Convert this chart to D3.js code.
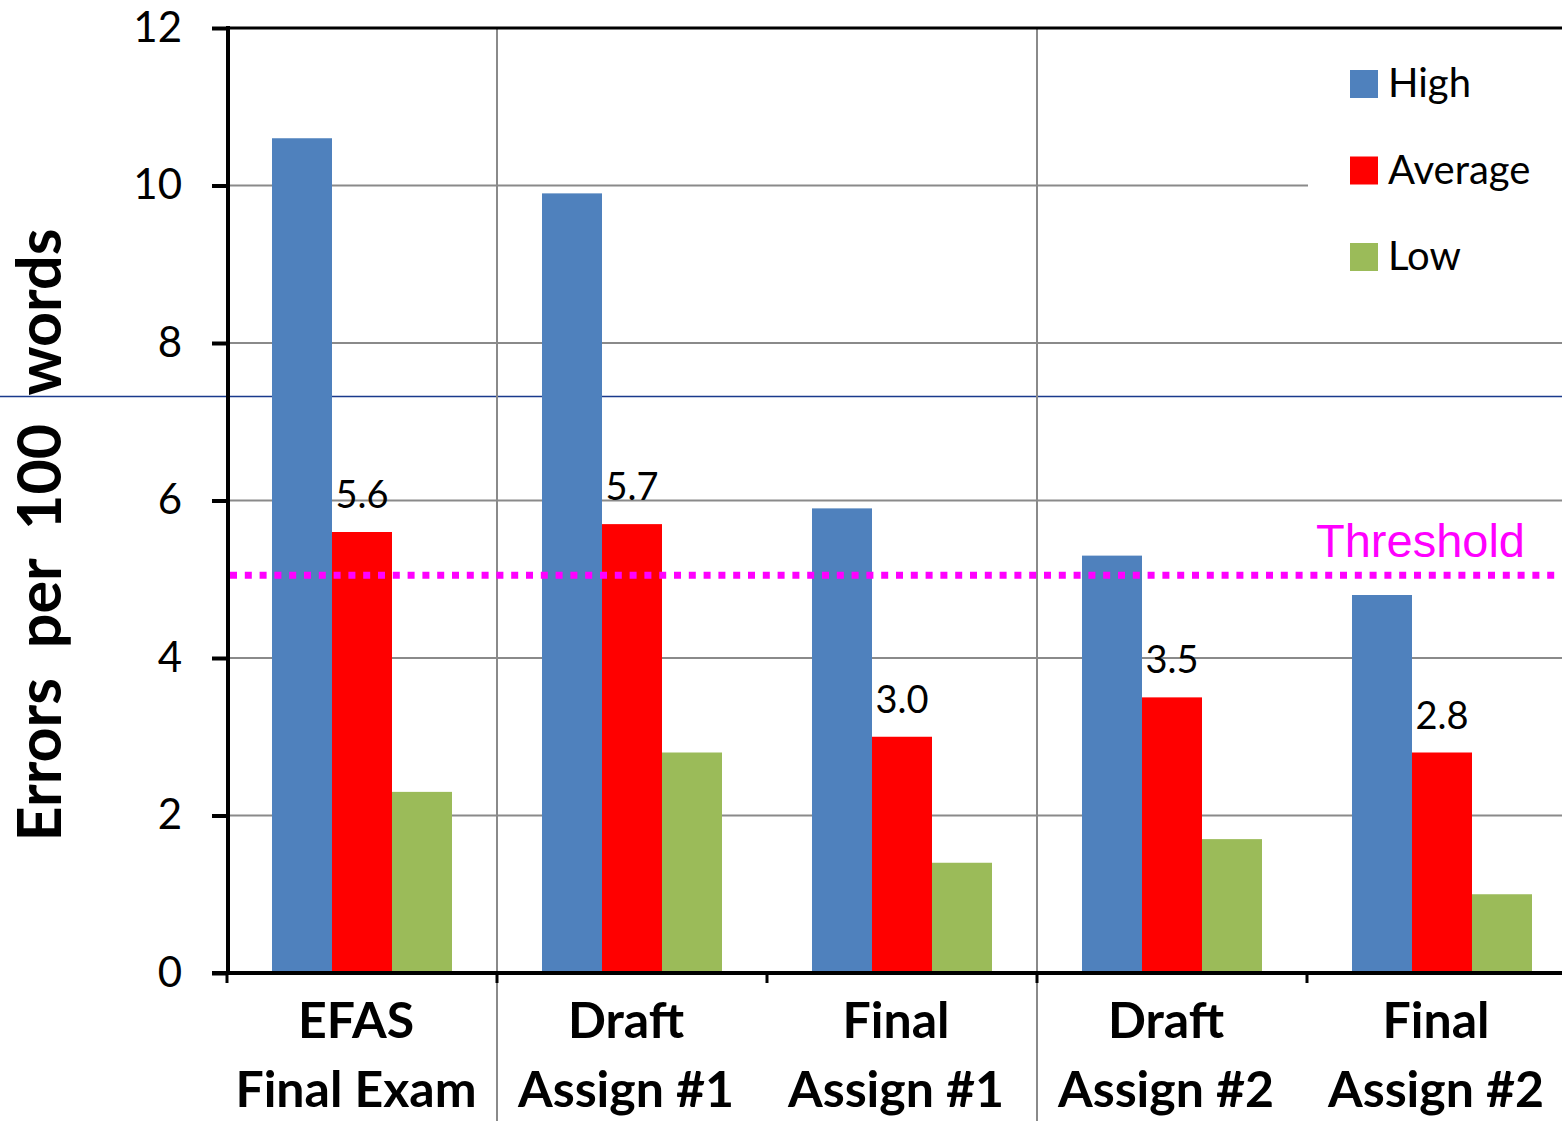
<!DOCTYPE html>
<html>
<head>
<meta charset="utf-8">
<script src="https://cdn.jsdelivr.net/npm/d3@7"></script>
<style>
  html, body { margin: 0; padding: 0; background: #fff; }
  svg { display: block; }
</style>
</head>
<body>
<svg id="chart" width="1562" height="1121"></svg>
<script>
// ---- data ----
const categories = ["EFAS Final Exam", "Draft Assign #1", "Final Assign #1", "Draft Assign #2", "Final Assign #2"];
const categoryTop = ["EFAS", "Draft", "Final", "Draft", "Final"];
const categoryBottom = ["Final Exam", "Assign #1", "Assign #1", "Assign #2", "Assign #2"];
const seriesNames = ["High", "Average", "Low"];
const highValues = [10.6, 9.9, 5.9, 5.3, 4.8];
const averageValues = [5.6, 5.7, 3.0, 3.5, 2.8];
const lowValues = [2.3, 2.8, 1.4, 1.7, 1.0];
const averageLabels = ["5.6", "5.7", "3.0", "3.5", "2.8"];
const thresholdValue = 5.05;
const thresholdLabel = "Threshold";
const yTicks = [0, 2, 4, 6, 8, 10, 12];
const sectionDividers = [1, 3]; // category index where a new section starts
const yTitle = "Errors\u00a0\u00a0per\u00a0\u00a0100\u00a0\u00a0words";
const stripeValue = 7.33;

// ---- styles ----
const colors = { High: "#4F81BD", Average: "#FF0000", Low: "#9BBB59" };
const seriesValues = { High: highValues, Average: averageValues, Low: lowValues };

(function () {
const svg = d3.select("#chart");
const W = 1562, H = 1121;
const plotLeft = 228, plotTop = 28, plotBottom = 973;

const x0 = d3.scaleBand().domain(categories).range([227, 227 + 270 * categories.length]).padding(0);
const x1 = d3.scaleBand().domain(seriesNames).range([0, x0.bandwidth()]).paddingInner(0).paddingOuter(0.75);
const y = d3.scaleLinear().domain([0, 12]).range([plotBottom, plotTop]);

const fontMain = "Lato, 'Open Sans', sans-serif";

// horizontal gridlines
svg.append("g").selectAll("line")
  .data(yTicks.filter(t => t > 0 && t < 12))
  .join("line")
  .attr("x1", plotLeft).attr("x2", W)
  .attr("y1", d => y(d)).attr("y2", d => y(d))
  .attr("stroke", "#8a8a8a").attr("stroke-width", 2);

// legend background covers part of the 10 gridline
svg.append("rect").attr("x", 1308).attr("y", 45).attr("width", W - 1308).attr("height", 250).attr("fill", "#fff");

// stripe line across slide
svg.append("line")
  .attr("x1", 0).attr("x2", W)
  .attr("y1", Math.round(y(stripeValue)) + 0.5).attr("y2", Math.round(y(stripeValue)) + 0.5)
  .attr("stroke", "#1a3a8c").attr("stroke-width", 1.3);

// section divider lines
svg.append("g").selectAll("line")
  .data(sectionDividers)
  .join("line")
  .attr("x1", d => x0(categories[d])).attr("x2", d => x0(categories[d]))
  .attr("y1", plotTop).attr("y2", H)
  .attr("stroke", "#8a8a8a").attr("stroke-width", 2);

// bars
const groups = svg.append("g").selectAll("g")
  .data(categories)
  .join("g")
  .attr("transform", d => `translate(${x0(d)},0)`);

groups.selectAll("rect")
  .data((d, i) => seriesNames.map(s => ({ s, v: seriesValues[s][i] })))
  .join("rect")
  .attr("x", d => x1(d.s))
  .attr("width", x1.bandwidth())
  .attr("y", d => y(d.v))
  .attr("height", d => y(0) - y(d.v))
  .attr("fill", d => colors[d.s]);

// average labels
svg.append("g").selectAll("text")
  .data(categories)
  .join("text")
  .attr("x", (d) => x0(d) + x1("Average") + x1.bandwidth() / 2)
  .attr("y", (d, i) => y(averageValues[i]) - 24)
  .attr("text-anchor", "middle")
  .attr("font-family", fontMain)
  .attr("font-size", 38)
  .attr("fill", "#000")
  .text((d, i) => averageLabels[i]);

// threshold
svg.append("line")
  .attr("x1", plotLeft + 2).attr("x2", W)
  .attr("y1", y(thresholdValue)).attr("y2", y(thresholdValue))
  .attr("stroke", "#FF00FF").attr("stroke-width", 7)
  .attr("stroke-dasharray", "7,7.8");
svg.append("text")
  .attr("x", 1525).attr("y", y(thresholdValue) - 18)
  .attr("text-anchor", "end")
  .attr("font-family", "'Liberation Sans', Arial, sans-serif")
  .attr("font-size", 47)
  .attr("fill", "#FF00FF")
  .text(thresholdLabel);

// top border
svg.append("line").attr("x1", plotLeft).attr("x2", W).attr("y1", plotTop).attr("y2", plotTop)
  .attr("stroke", "#000").attr("stroke-width", 3);

// y axis
const yAxis = d3.axisLeft(y).tickValues(yTicks).tickSize(16).tickPadding(30).tickFormat(d3.format("d"));
const gy = svg.append("g").attr("transform", `translate(${plotLeft},0)`).call(yAxis);
gy.select(".domain").attr("stroke", "#000").attr("stroke-width", 4).attr("d", `M0,${plotTop - 2}V${plotBottom + 2}`);
gy.selectAll(".tick line").attr("stroke", "#000").attr("stroke-width", 4);
gy.selectAll(".tick text").attr("font-family", fontMain).attr("font-size", 42).attr("fill", "#000");

// x axis
const boundaries = categories.map(c => x0(c)).concat([x0.range()[1]]);
svg.append("line").attr("x1", plotLeft - 16).attr("x2", W).attr("y1", plotBottom).attr("y2", plotBottom)
  .attr("stroke", "#000").attr("stroke-width", 4);
svg.append("g").selectAll("line")
  .data(boundaries)
  .join("line")
  .attr("x1", d => d).attr("x2", d => d)
  .attr("y1", plotBottom).attr("y2", plotBottom + 10)
  .attr("stroke", "#000").attr("stroke-width", 3);

// x labels
const xl = svg.append("g").selectAll("g")
  .data(categories)
  .join("g")
  .attr("transform", d => `translate(${x0(d) + x0.bandwidth() / 2 - 6},0)`);
xl.append("text").attr("y", 1038).attr("text-anchor", "middle")
  .attr("font-family", fontMain).attr("font-weight", "bold").attr("font-size", 50).attr("fill", "#000")
  .text((d, i) => categoryTop[i]);
xl.append("text").attr("y", 1107).attr("text-anchor", "middle")
  .attr("font-family", fontMain).attr("font-weight", "bold").attr("font-size", 50).attr("fill", "#000")
  .text((d, i) => categoryBottom[i]);

// y title
svg.append("text")
  .attr("transform", "translate(61,535) rotate(-90)")
  .attr("text-anchor", "middle")
  .attr("font-family", fontMain).attr("font-weight", "bold").attr("font-size", 61).attr("fill", "#000")
  .text(yTitle);

// legend
const legend = svg.append("g").selectAll("g")
  .data(seriesNames)
  .join("g")
  .attr("transform", (d, i) => `translate(1350,${70 + i * 86.5})`);
legend.append("rect").attr("width", 28).attr("height", 28).attr("fill", d => colors[d]);
legend.append("text").attr("x", 38).attr("y", 27)
  .attr("font-family", fontMain).attr("font-size", 40).attr("fill", "#000")
  .text(d => d);
})();
</script>
</body>
</html>
